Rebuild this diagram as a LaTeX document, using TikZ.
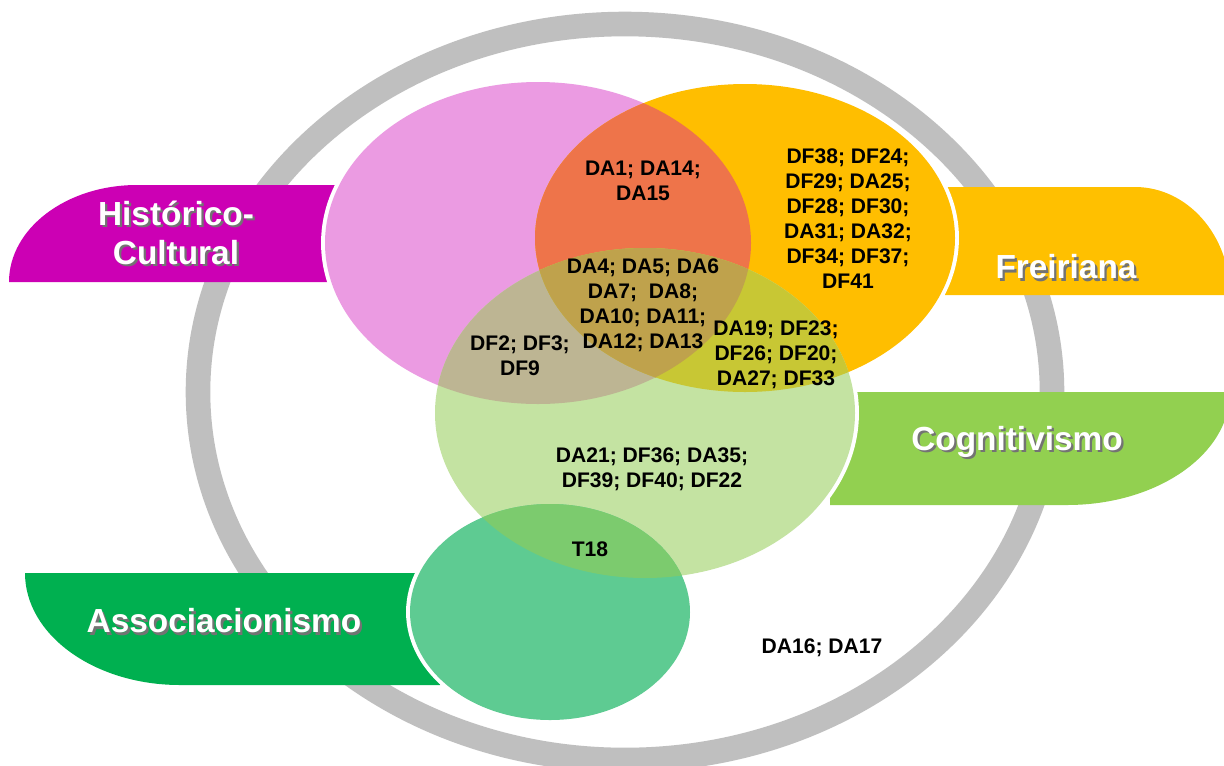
\documentclass[tikz,border=0pt]{standalone}
\usepackage{fontspec}
\setmainfont{Liberation Sans}
\usepackage{xcolor}
\definecolor{ringGray}{HTML}{BFBFBF}
\definecolor{tabMagenta}{HTML}{CC00B4}
\definecolor{tabOrange}{HTML}{FFC000}
\definecolor{tabLime}{HTML}{92D050}
\definecolor{tabGreen}{HTML}{00B050}
\definecolor{setPink}{HTML}{EB9BE2}
\definecolor{setOrange}{HTML}{FFBE00}
\definecolor{setLime}{HTML}{C4E3A2}
\definecolor{setTeal}{HTML}{5ECB92}
\definecolor{cutRed}{HTML}{EE744A}
\definecolor{cutTan}{HTML}{BDB593}
\definecolor{cutOlive}{HTML}{BFA24C}
\definecolor{cutYellow}{HTML}{C8C734}
\definecolor{cutGreen}{HTML}{7CCB6E}
\newcommand{\pinkSet}{(538,243) ellipse [x radius=213, y radius=161]}
\newcommand{\orangeSet}{(745,238) ellipse [x radius=210, y radius=154]}
\newcommand{\limeSet}{(645,413) ellipse [x radius=210, y radius=165]}
\newcommand{\tealSet}{(550,612) ellipse [x radius=140, y radius=108]}
\newcommand{\shadowed}[1]{\makebox[0pt][l]{\kern1.3pt\raisebox{-1.3pt}{\color{black!55}#1}}#1}
\tikzset{
  tabtext/.style={text=white, font=\bfseries\fontsize{19}{22}\selectfont, align=center},
  codes/.style={font=\bfseries\fontsize{12}{14.2}\selectfont, align=center, inner sep=0pt}
}

\begin{document}
\begin{tikzpicture}[x=0.02cm, y=-0.02cm]
  \useasboundingbox (0,0) rectangle (1224,765);
  \fill[white] (0,0) rectangle (1224,765);
  \draw[ringGray, line width=14pt] (625,392) ellipse [x radius=427, y radius=368];

  \fill[tabMagenta] (340,282) -- (9,282) arc[start angle=180, end angle=270, x radius=128, y radius=97] -- (340,185) -- cycle;
  \fill[tabOrange] (945,187) -- (1135,187) arc[start angle=270, end angle=360, x radius=95, y radius=108] -- (945,295) -- cycle;
  \fill[tabLime] (830,392) -- (1230,392) arc[start angle=0, end angle=90, x radius=163, y radius=113] -- (830,505) -- cycle;
  \fill[tabGreen] (440,573) -- (25,573) arc[start angle=180, end angle=90, x radius=155, y radius=112] -- (440,685) -- cycle;

  \draw[white, line width=4.5pt] \pinkSet;
  \draw[white, line width=4.5pt] \orangeSet;
  \draw[white, line width=4.5pt] \limeSet;
  \draw[white, line width=4.5pt] \tealSet;
  \fill[setPink] \pinkSet;
  \fill[setOrange] \orangeSet;
  \fill[setLime] \limeSet;
  \fill[setTeal] \tealSet;
  \begin{scope}
    \clip \pinkSet;
    \fill[cutRed] \orangeSet;
    \fill[cutTan] \limeSet;
    \clip \orangeSet;
    \fill[cutOlive] \limeSet;
  \end{scope}
  \begin{scope}
    \clip \orangeSet;
    \clip \limeSet;
    \fill[cutYellow] (0,0) rectangle (1224,765);
    \clip \pinkSet;
    \fill[cutOlive] (0,0) rectangle (1224,765);
  \end{scope}
  \begin{scope}
    \clip \limeSet;
    \fill[cutGreen] \tealSet;
  \end{scope}

  \node[tabtext] (lblHist) at (176,234) {\shadowed{Histórico-}\\\shadowed{Cultural}};
  \node[tabtext] (lblFrei) at (1066,268) {\shadowed{Freiriana}};
  \node[tabtext] (lblCogn) at (1017,443) {\shadowed{Cognitivismo}};
  \node[tabtext] (lblAssoc) at (224,622) {\shadowed{Associacionismo}};

  \node[codes] (setPO) at (643,181) {DA1; DA14;\\DA15};
  \node[codes] (setO) at (848,219) {DF38; DF24;\\DF29; DA25;\\DF28; DF30;\\DA31; DA32;\\DF34; DF37;\\DF41};
  \node[codes] (setPOG) at (643,305) {DA4; DA5; DA6\\DA7;\ \ DA8;\\DA10; DA11;\\DA12; DA13};
  \node[codes] (setPG) at (520,356) {DF2; DF3;\\DF9};
  \node[codes] (setOG) at (776,355) {DA19; DF23;\\DF26; DF20;\\DA27; DF33};
  \node[codes] (setG) at (652,469) {DA21; DF36; DA35;\\DF39; DF40; DF22};
  \node[codes] (setGT) at (590,549) {T18};
  \node[codes] (setNone) at (822,648) {DA16; DA17};
\end{tikzpicture}
\end{document}
